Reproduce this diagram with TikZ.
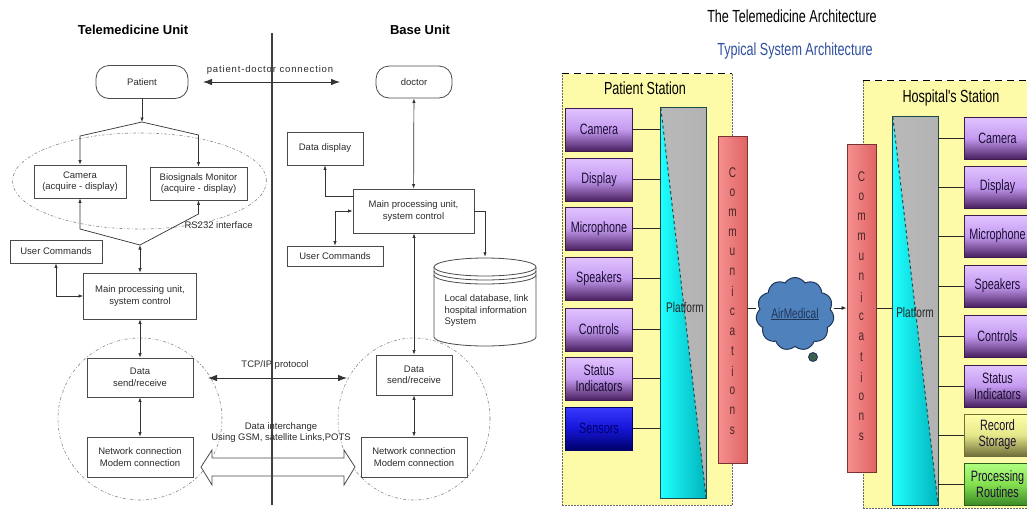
\documentclass[tikz,border=0pt]{standalone}
\usepackage{fontspec}
\setmainfont{Liberation Sans}
\newfontfamily\narrowfont[FakeStretch=0.72]{Liberation Sans}
\usetikzlibrary{arrows.meta,shapes.symbols}
\definecolor{txtg}{HTML}{2B2B2B}
\definecolor{boxg}{HTML}{4A4A4A}
\definecolor{lineg}{HTML}{333333}
\definecolor{ellg}{HTML}{8A8A8A}
\definecolor{ylw}{HTML}{FEFBA8}
\definecolor{purL}{HTML}{E2C4FF}
\definecolor{purM}{HTML}{C49AF0}
\definecolor{purD}{HTML}{4A2060}
\definecolor{bluL}{HTML}{3A3AFF}
\definecolor{bluM}{HTML}{1515D8}
\definecolor{bluD}{HTML}{00006A}
\definecolor{ylwL}{HTML}{FFFFA8}
\definecolor{ylwM}{HTML}{E6E68A}
\definecolor{ylwD}{HTML}{6E6E38}
\definecolor{grnL}{HTML}{B0FF80}
\definecolor{grnM}{HTML}{84E050}
\definecolor{grnD}{HTML}{3C8A28}
\definecolor{cyL}{HTML}{20FFFF}
\definecolor{cyD}{HTML}{00B4BC}
\definecolor{platB}{HTML}{1E4A4A}
\definecolor{commL}{HTML}{F69090}
\definecolor{commD}{HTML}{E06464}
\definecolor{commB}{HTML}{7A3232}
\definecolor{commT}{HTML}{4A2424}
\definecolor{cloudF}{HTML}{4F81BD}
\definecolor{cloudB}{HTML}{1F3558}
\definecolor{tailF}{HTML}{3A5E50}
\definecolor{subblue}{HTML}{2F4F9F}
\definecolor{boxtxt}{HTML}{1A0F30}
\begin{document}
\begin{tikzpicture}[x=1pt,y=-1pt,
  lfont/.style={font=\fontsize{9.5}{11.5}\selectfont, text=txtg},
  ttl/.style={font=\bfseries\fontsize{13}{15}\selectfont, text=black},
  lbox/.style={draw=boxg, line width=0.8pt, fill=white, lfont, align=center, inner sep=1pt},
  pill/.style={lbox, rounded corners=13pt},
  arr/.style={draw=lineg, line width=0.7pt, -{Latex[length=4.5pt,width=3.4pt]}},
  dbl/.style={draw=lineg, line width=0.7pt, {Latex[length=4.5pt,width=3.4pt]}-{Latex[length=4.5pt,width=3.4pt]}},
  bigdbl/.style={draw=lineg, line width=0.8pt, {Latex[length=9pt,width=6.5pt]}-{Latex[length=9pt,width=6.5pt]}},
  dashell/.style={draw=ellg, line width=0.6pt, dash pattern=on 3pt off 2pt on 0.8pt off 2pt},
  rfont/.style={font=\narrowfont\fontsize{15}{16}\selectfont},
  shbox/.style={draw=#1, line width=1pt, minimum width=67pt, minimum height=43pt, inner sep=1pt, align=center, rfont, text=boxtxt, shading angle=35},
  purpbox/.style={shbox=purD!80!black, top color=purL, bottom color=purD, middle color=purM},
  bluebox/.style={shbox=bluD, top color=bluL, bottom color=bluD, middle color=bluM, text=bluD},
  ylwbox/.style={shbox=ylwD, top color=ylwL, bottom color=ylwD, middle color=ylwM},
  grnbox/.style={shbox=grnD!70!black, top color=grnL, bottom color=grnD, middle color=grnM},
  station/.style={fill=ylw, inner sep=0pt},
  stlabel/.style={font=\narrowfont\fontsize{17.5}{19}\selectfont, text=black},
  commbar/.style={draw=commB, line width=1pt, left color=commL, right color=commD, inner sep=0pt, minimum width=29pt},
  commletter/.style={font=\narrowfont\fontsize{14}{15}\selectfont, text=commT, inner sep=0pt},
  wire/.style={draw=black!85, line width=0.9pt}
]
\useasboundingbox (0,0) rectangle (1027,512);
\fill[white] (0,0) rectangle (1027,512);

%% ================= LEFT DIAGRAM =================
\node[ttl] (tU) at (133,30) {Telemedicine Unit};
\node[ttl] (tB) at (420,30) {Base Unit};

\draw[dashell] (139.5,181) ellipse[x radius=127pt, y radius=48pt];
\draw[dashell] (140,419) ellipse[x radius=82pt, y radius=81pt];
\draw[dashell] (414,419) ellipse[x radius=76pt, y radius=81pt];

% big hollow double arrow
\draw[line width=0.8pt, draw=boxg, fill=white] (201,467) -- (212,450) -- (212,458) -- (344,458) -- (344,450) -- (355,467) -- (344,485) -- (344,476) -- (212,476) -- (212,485) -- cycle;

% separator
\draw[line width=1.8pt, draw=black!75] (272,33) -- (272,505);

% nodes telemedicine unit
\node[pill, minimum width=92pt, minimum height=33pt] (patient) at (142,82) {Patient};
\node[lbox, minimum width=92pt, minimum height=33pt] (camera) at (80,181.5) {Camera\\(acquire - display)};
\node[lbox, minimum width=97pt, minimum height=33pt] (bio) at (198.5,183.5) {Biosignals Monitor\\(acquire - display)};
\node[lbox, minimum width=92pt, minimum height=23pt] (ucL) at (56,251.5) {User Commands};
\node[lbox, minimum width=113pt, minimum height=46pt] (mainL) at (140,296) {Main processing unit,\\system control};
\node[lbox, minimum width=106pt, minimum height=39pt] (dataL) at (140,377.5) {Data\\send/receive};
\node[lbox, minimum width=106pt, minimum height=40pt] (netL) at (140,457) {Network connection\\Modem connection};

% nodes base unit
\node[pill, minimum width=76pt, minimum height=32pt] (doctor) at (414,82) {doctor};
\node[lbox, minimum width=76pt, minimum height=33pt] (dispB) at (325,148.5) {Data display};
\node[lbox, minimum width=121pt, minimum height=44pt] (mainB) at (413.5,211) {Main processing unit,\\system control};
\node[lbox, minimum width=96pt, minimum height=20pt] (ucB) at (335,256) {User Commands};
\node[lbox, minimum width=76pt, minimum height=40pt] (dataB) at (414,375) {Data\\send/receive};
\node[lbox, minimum width=106pt, minimum height=40pt] (netB) at (414,457) {Network connection\\Modem connection};

% database cylinder
\node[minimum width=102pt, minimum height=88pt, inner sep=0pt] (db) at (485,301) {};
\draw[draw=boxg, line width=0.8pt, fill=white] (434,267) -- (434,337) arc[start angle=180, end angle=360, x radius=51pt, y radius=9pt] -- (536,267);
\draw[draw=boxg, line width=0.8pt, fill=white] (485,267) ellipse[x radius=51pt, y radius=9pt];
\draw[draw=boxg, line width=0.8pt] (434,271) arc[start angle=180, end angle=360, x radius=51pt, y radius=9pt];
\draw[draw=boxg, line width=0.8pt] (434,275) arc[start angle=180, end angle=360, x radius=51pt, y radius=9pt];
\node[lfont, align=left, anchor=west] (dbt) at (441,311) {Local database, link\\hospital information\\System};

% connectors left
\coordinate (split) at (142,122);
\coordinate (bl) at (80,136);
\coordinate (br) at (198.5,135);
\coordinate (join) at (140,245);
\coordinate (jl) at (80,229);
\coordinate (jr) at (198.5,214);
\draw[arr] (patient) -- (split);
\draw[arr] (split) -- (bl) -- (camera);
\draw[arr] (split) -- (br) -- (bio);
\draw[arr] (join) -- (jl) -- (camera);
\draw[arr] (join) -- (jr) -- (bio);
\node[lfont, anchor=west] (rs) at (181,225) {RS232 interface};
\draw[dbl] (join) -- (mainL);
\draw[dbl] (ucL.south) |- (mainL.west);
\draw[dbl] (mainL) -- (dataL);
\draw[dbl] (dataL) -- (netL);

% connectors base
\draw[dbl] (doctor) -- (mainB);
\draw[arr] ([yshift=-8pt]mainB.north west) -| (dispB.south);
\draw[dbl] (mainB.west) -| (ucB.north);
\draw[arr] (mainB.east) -| (db.north);
\draw[dbl] (mainB.south -| dataB.north) -- (dataB.north);
\draw[dbl] (dataB) -- (netB);

% cross connections
\coordinate (pdL) at (203,82);
\coordinate (pdR) at (340,82);
\draw[bigdbl] (pdL) -- (pdR);
\node[lfont, font=\addfontfeature{LetterSpace=9}\fontsize{9.5}{11.5}\selectfont] (pdlab) at (270,70) {patient-doctor connection};
\coordinate (tcpL) at (208,378);
\coordinate (tcpR) at (347,378);
\draw[bigdbl] (tcpL) -- (tcpR);
\node[lfont] (tcplab) at (275,365) {TCP/IP protocol};
\node[lfont, align=center] (dilab) at (281,432.5) {Data interchange\\Using GSM, satellite Links,POTS};

%% ================= RIGHT DIAGRAM =================
\node[font=\narrowfont\fontsize{17.5}{19}\selectfont, text=black] (rtitle) at (792,16) {The Telemedicine Architecture};
\node[font=\narrowfont\fontsize{17.5}{19}\selectfont, text=subblue] (rsub) at (795,51) {Typical System Architecture};

% patient station
\node[station, minimum width=170pt, minimum height=431pt] (ps) at (647,289.5) {};
\draw[line width=1.2pt, dash pattern=on 7pt off 5pt] (ps.north west) -- (ps.north east);
\draw[draw=black!60, line width=0.5pt, densely dotted] (ps.north east) -- (ps.south east) -- (ps.south west) -- (ps.north west);
\node[stlabel] (pslab) at (645,88) {Patient Station};

% hospital station
\node[station, minimum width=168pt, minimum height=427pt] (hs) at (947,294.5) {};
\draw[line width=1.2pt, dash pattern=on 7pt off 5pt] (hs.north west) -- (hs.north east);
\draw[draw=black!60, line width=0.5pt, densely dotted] (hs.north west) -- (hs.south west) -- (hs.south east);
\node[stlabel] (hslab) at (951,98) {Hospital's Station};

% patient platform
\node[minimum width=45pt, minimum height=390pt, inner sep=0pt] (pplat) at (683.5,303) {};
\shade[left color=gray!55, middle color=gray!28, right color=gray!60] (pplat.north west) rectangle (pplat.south east);
\shade[left color=cyL, right color=cyD] (pplat.north west) -- (pplat.south east) -- (pplat.south west) -- cycle;
\draw[draw=platB, line width=1pt, dashed] (pplat.north west) -- (pplat.south east);
\draw[draw=platB, line width=1.2pt] (pplat.north west) rectangle (pplat.south east);
\node[font=\narrowfont\fontsize{14}{15}\selectfont, text=black!85] (pplab) at (685,307) {Platform};

% hospital platform
\node[minimum width=45pt, minimum height=388pt, inner sep=0pt] (hplat) at (915.5,311) {};
\shade[left color=gray!55, middle color=gray!28, right color=gray!60] (hplat.north west) rectangle (hplat.south east);
\shade[left color=cyL, right color=cyD] (hplat.north west) -- (hplat.south east) -- (hplat.south west) -- cycle;
\draw[draw=platB, line width=1pt, dashed] (hplat.north west) -- (hplat.south east);
\draw[draw=platB, line width=1.2pt] (hplat.north west) rectangle (hplat.south east);
\node[font=\narrowfont\fontsize{14}{15}\selectfont, text=black!85] (hplab) at (915,312) {Platform};

% patient boxes
\node[purpbox] (pb1) at (599,129.5) {Camera};
\node[purpbox] (pb2) at (599,179.5) {Display};
\node[purpbox] (pb3) at (599,228.5) {Microphone};
\node[purpbox] (pb4) at (599,278.5) {Speakers};
\node[purpbox] (pb5) at (599,329.5) {Controls};
\node[purpbox] (pb6) at (599,378.5) {Status\\Indicators};
\node[bluebox] (pb7) at (599,428.5) {Sensors};
\foreach \n in {1,...,7} \draw[wire] (pb\n.east) -- (pb\n.east -| pplat.west);

% hospital boxes
\node[purpbox, minimum height=42pt] (hb1) at (997.5,138) {Camera};
\node[purpbox, minimum height=42pt] (hb2) at (997.5,187) {Display};
\node[purpbox, minimum height=42pt] (hb3) at (997.5,236) {Microphone};
\node[purpbox, minimum height=42pt] (hb4) at (997.5,286) {Speakers};
\node[purpbox, minimum height=42pt] (hb5) at (997.5,336) {Controls};
\node[purpbox, minimum height=42pt] (hb6) at (997.5,386) {Status\\Indicators};
\node[ylwbox, minimum height=42pt] (hb7) at (997.5,435) {Record\\Storage};
\node[grnbox, minimum height=42pt] (hb8) at (997.5,484) {Processing\\Routines};
\foreach \n in {1,...,8} \draw[wire] (hplat.east |- hb\n.west) -- (hb\n.west);

% communications bars
\node[commbar, minimum height=327pt] (comm1) at (732.5,299.5) {};
\node[commbar, minimum height=328pt] (comm2) at (861.5,308) {};
\foreach \l [count=\i] in {C,o,m,m,u,n,i,c,a,t,i,o,n,s} {
  \node[commletter] (ca\i) at (732.5,{173+(\i-1)*19.8}) {\l};
  \node[commletter] (cb\i) at (861.5,{177+(\i-1)*20}) {\l};
}

% cloud
\coordinate (cloudrow) at (0,308);
\node[cloud, cloud puffs=11, cloud puff arc=115, aspect=1.1, draw=cloudB, fill=cloudF, line width=1pt, minimum width=78pt, minimum height=73pt, inner sep=0pt, font=\narrowfont\fontsize{14}{15}\selectfont, text=cloudB] (cloud) at (795,314) {\underline{AirMedical}};
\node[circle, fill=tailF, draw=cloudB, line width=0.8pt, minimum size=9pt, inner sep=0pt] (tail) at (813,357) {};
\draw[wire] (comm1.east |- cloudrow) -- (cloud.west |- cloudrow);
\draw[wire, -{Latex[length=5pt,width=4pt]}] (cloud.east |- cloudrow) -- (comm2.west |- cloudrow);
\draw[wire] (comm2.east) -- (comm2.east -| hplat.west);
\end{tikzpicture}
\end{document}
